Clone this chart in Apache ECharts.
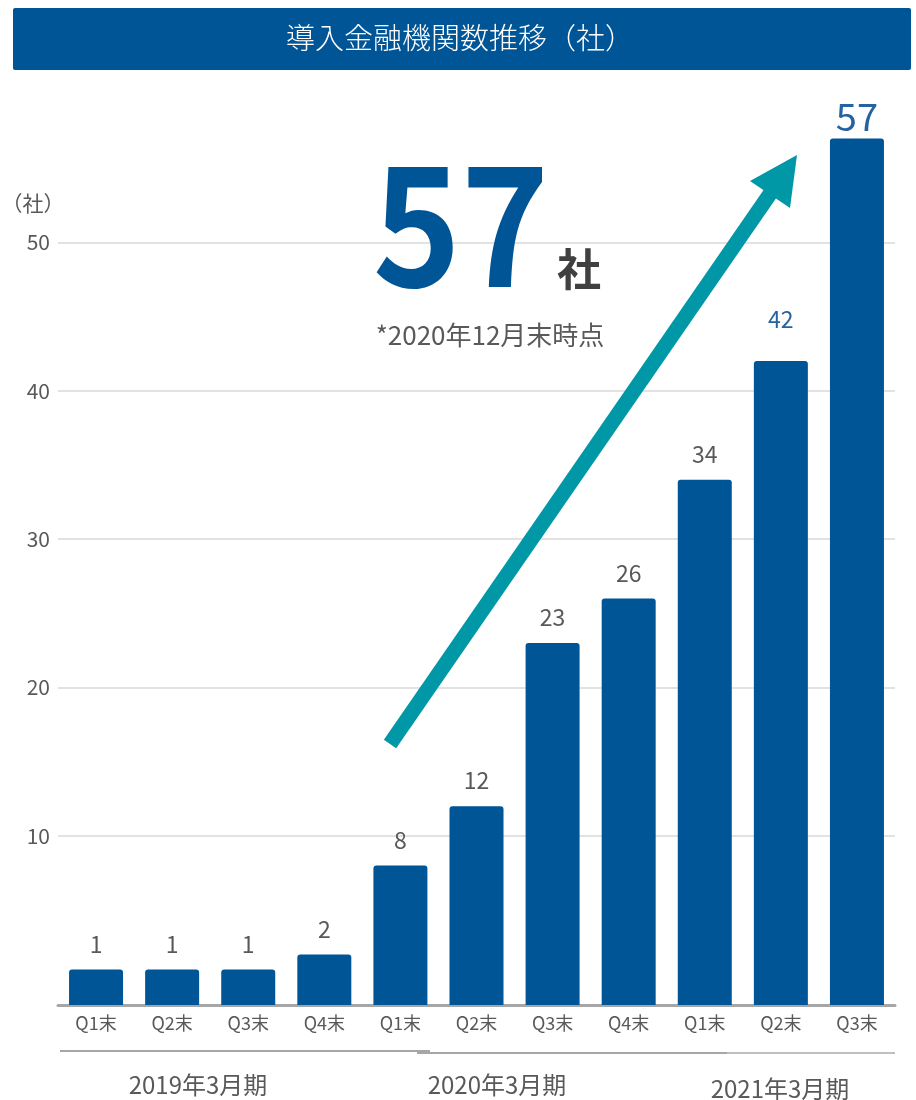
<!DOCTYPE html>
<html>
<head>
<meta charset="utf-8">
<script src="https://cdn.jsdelivr.net/npm/echarts@6/dist/echarts.min.js"></script>
<style>
html, body { margin: 0; padding: 0; background: #fff; }
#main { width: 916px; height: 1100px; }
</style>
</head>
<body>
<div id="main"></div>
<script>
// データ
var quarters = ['Q1末', 'Q2末', 'Q3末', 'Q4末', 'Q1末', 'Q2末', 'Q3末', 'Q4末', 'Q1末', 'Q2末', 'Q3末'];
var counts = [1, 1, 1, 2, 8, 12, 23, 26, 34, 42, 57];
var fiscalYears = ['2019年3月期', '2020年3月期', '2021年3月期'];
var yTickValues = [10, 20, 30, 40, 50];

var FONT = '"Noto Sans CJK JP", "Noto Sans", sans-serif';
var BLUE = '#005596';
var GRAY = '#595959';

var myChart = echarts.init(document.getElementById('main'));

var barData = counts.map(function (v, i) {
	var item = { value: v };
	if (i === counts.length - 2) {
		item.label = { color: '#2462a0', distance: 30 };
	}
	if (i === counts.length - 1) {
		item.label = { color: '#2462a0', fontSize: 38, distance: 3 };
	}
	return item;
});

var option = {
	animation: false,
	grid: { left: 58, right: 21, top: 94, bottom: 95 },
	xAxis: {
		type: 'category',
		data: quarters,
		axisLine: { onZero: false, lineStyle: { color: '#a6a6a6', width: 3 } },
		axisTick: { show: false },
		axisLabel: { color: GRAY, fontSize: 18, fontFamily: FONT, margin: 9 }
	},
	yAxis: {
		type: 'value',
		min: -1.4,
		max: 60,
		startValue: -1.4,
		axisLine: { show: false },
		axisTick: { show: false },
		axisLabel: {
			color: GRAY, fontSize: 21, fontFamily: FONT, margin: 8,
			formatter: function (v) {
				return yTickValues.indexOf(v) >= 0 ? String(v) : '';
			}
		},
		splitLine: {
			lineStyle: {
				color: ['rgba(0,0,0,0)', 'rgba(0,0,0,0)', '#d9d9d9', '#d9d9d9', '#d9d9d9', '#d9d9d9', '#d9d9d9', 'rgba(0,0,0,0)'],
				width: 1.5
			}
		}
	},
	series: [{
		type: 'bar',
		data: barData,
		barWidth: 54,
		itemStyle: { color: BLUE, borderRadius: [3, 3, 0, 0] },
		label: {
			show: true,
			position: 'top',
			distance: 14,
			color: GRAY,
			fontSize: 23,
			fontFamily: FONT
		}
	}],
	graphic: [
		// タイトル帯
		{
			type: 'rect',
			shape: { x: 13, y: 8, width: 898, height: 62, r: 2 },
			style: { fill: BLUE }
		},
		{
			type: 'text',
			style: {
				text: '導入金融機関数推移（社）', x: 460, y: 38,
				align: 'center', verticalAlign: 'middle',
				fill: '#fff', font: '300 29px ' + FONT
			}
		},
		// 単位
		{
			type: 'text',
			style: {
				text: '（社）', x: 33, y: 203,
				align: 'center', verticalAlign: 'middle',
				fill: GRAY, font: '21px ' + FONT
			}
		},
		// 矢印
		{
			type: 'line',
			shape: { x1: 390, y1: 744, x2: 772, y2: 191 },
			style: { stroke: '#0098a6', lineWidth: 15 },
			z: 10
		},
		{
			type: 'polygon',
			shape: { points: [[797, 155], [750, 181], [790, 208]] },
			style: { fill: '#0098a6' },
			z: 10
		},
		// 強調
		{
			type: 'text',
			x: 461, y: 224,
			scaleX: 0.9,
			style: {
				text: '57', x: 0, y: 0,
				align: 'center', verticalAlign: 'middle',
				fill: BLUE, font: 'bold 166px ' + FONT
			},
			z: 11
		},
		{
			type: 'text',
			style: {
				text: '社', x: 579, y: 269,
				align: 'center', verticalAlign: 'middle',
				fill: '#404040', font: 'bold 44px ' + FONT
			},
			z: 11
		},
		{
			type: 'text',
			style: {
				text: '*2020年12月末時点', x: 490, y: 335,
				align: 'center', verticalAlign: 'middle',
				fill: GRAY, font: '26px ' + FONT
			},
			z: 11
		},
		// 年度区切り
		{ type: 'line', shape: { x1: 60, y1: 1051, x2: 430, y2: 1051 }, style: { stroke: '#a6a6a6', lineWidth: 2 } },
		{ type: 'line', shape: { x1: 417, y1: 1053, x2: 732, y2: 1053 }, style: { stroke: '#a6a6a6', lineWidth: 2 } },
		{ type: 'line', shape: { x1: 727, y1: 1053, x2: 895, y2: 1053 }, style: { stroke: '#bfbfbf', lineWidth: 2 } },
		{
			type: 'text',
			style: { text: fiscalYears[0], x: 198, y: 1085, align: 'center', verticalAlign: 'middle', fill: GRAY, font: '24px ' + FONT }
		},
		{
			type: 'text',
			style: { text: fiscalYears[1], x: 497, y: 1085, align: 'center', verticalAlign: 'middle', fill: GRAY, font: '24px ' + FONT }
		},
		{
			type: 'text',
			style: { text: fiscalYears[2], x: 780, y: 1089, align: 'center', verticalAlign: 'middle', fill: GRAY, font: '24px ' + FONT }
		}
	]
};
myChart.setOption(option);
</script>
</body>
</html>
